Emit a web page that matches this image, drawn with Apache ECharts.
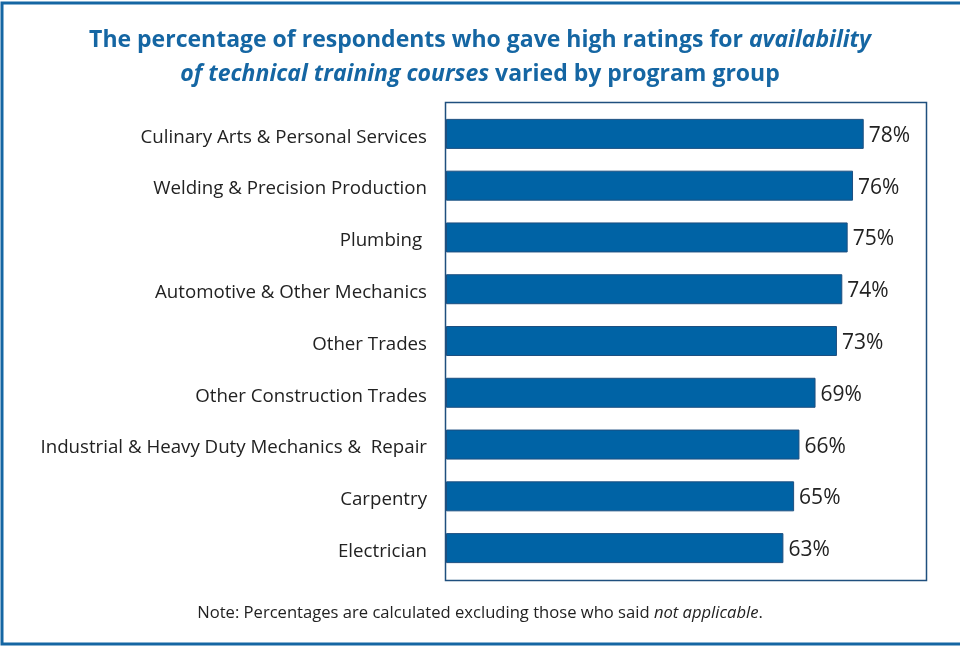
<!DOCTYPE html>
<html>
<head>
<meta charset="utf-8">
<script src="https://cdn.jsdelivr.net/npm/echarts@6/dist/echarts.min.js"></script>
<style>
  html, body { margin: 0; padding: 0; background: #fff; }
  #chart { width: 960px; height: 646px; }
</style>
</head>
<body>
<div id="chart"></div>
<script>
// Program groups, top to bottom
const categories = [
  'Culinary Arts & Personal Services',
  'Welding & Precision Production',
  'Plumbing ',
  'Automotive & Other Mechanics',
  'Other Trades',
  'Other Construction Trades',
  'Industrial & Heavy Duty Mechanics &  Repair',
  'Carpentry',
  'Electrician'
];
// Share of respondents giving high ratings (%)
const values = [78, 76, 75, 74, 73, 69, 66, 65, 63];

const FONT = '"Open Sans", "Noto Sans", sans-serif';
const BLUE = '#0063a5';
const TITLE_BLUE = '#1566a3';

const chart = echarts.init(document.getElementById('chart'));

chart.setOption({
  backgroundColor: '#fff',
  animation: false,
  title: {
    left: 'center',
    top: 18,
    text: 'The percentage of respondents who gave high ratings for {i|availability}\n{i|of technical training courses} varied by program group',
    textStyle: {
      fontFamily: FONT,
      fontSize: 23,
      fontWeight: 'bold',
      color: TITLE_BLUE,
      lineHeight: 34,
      rich: {
        i: {
          fontFamily: FONT,
          fontSize: 23,
          fontWeight: 'bold',
          fontStyle: 'italic',
          color: TITLE_BLUE,
          lineHeight: 34
        }
      }
    }
  },
  grid: {
    left: 446,
    right: 32,
    top: 108,
    bottom: 72,
    containLabel: false
  },
  xAxis: {
    type: 'value',
    min: 0,
    max: 90,
    show: false
  },
  yAxis: {
    type: 'category',
    data: categories,
    inverse: true,
    axisLine: { show: false },
    axisTick: { show: false },
    axisLabel: {
      margin: 19,
      formatter: (v) => '{c|' + v + '}',
      rich: {
        c: {
          fontFamily: FONT,
          fontSize: 18.7,
          color: '#222',
          padding: [7, 0, 0, 0]
        }
      }
    }
  },
  series: [{
    type: 'bar',
    data: values,
    barWidth: 30,
    itemStyle: {
      color: BLUE,
      borderColor: '#1d4f80',
      borderWidth: 1
    },
    label: {
      show: true,
      position: 'right',
      distance: 5,
      offset: [0, 2],
      formatter: '{c}%',
      fontFamily: FONT,
      fontSize: 21,
      color: '#222'
    }
  }],
  graphic: [
    // plot frame
    {
      type: 'rect',
      shape: { x: 445.5, y: 102.5, width: 481, height: 478 },
      style: { fill: null, stroke: '#1f4f7e', lineWidth: 1.5 },
      z: 10
    },
    // outer frame: left, top and bottom edges
    {
      type: 'polyline',
      shape: { points: [[960, 3], [2, 3], [2, 644], [960, 644]] },
      style: { fill: null, stroke: '#1566a3', lineWidth: 3 },
      z: 10
    },
    // footnote
    {
      type: 'text',
      left: 'center',
      top: 605,
      style: {
        text: 'Note: Percentages are calculated excluding those who said {i|not applicable}.',
        font: '16.6px ' + FONT,
        fill: '#222',
        rich: {
          i: { fontFamily: FONT, fontSize: 16.6, fontStyle: 'italic', fill: '#222' }
        }
      }
    }
  ]
});
</script>
</body>
</html>
